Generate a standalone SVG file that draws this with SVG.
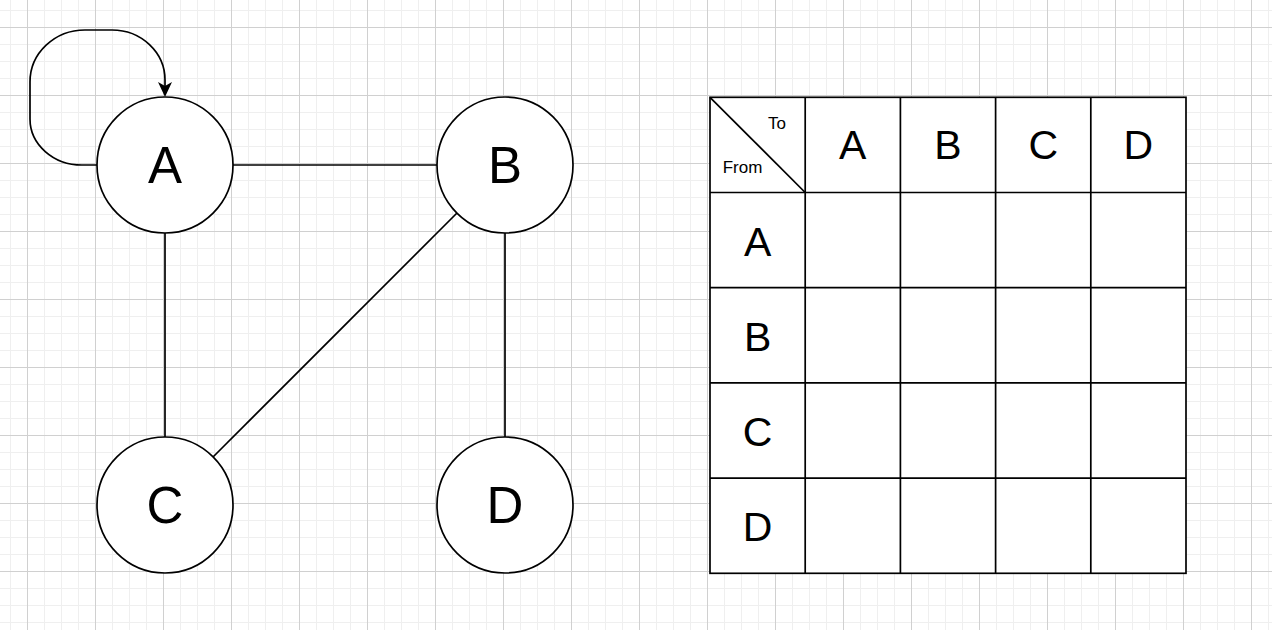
<svg xmlns="http://www.w3.org/2000/svg" width="1272" height="630" viewBox="0 0 1272 630">
  <style>
    .node circle { fill: #ffffff; stroke: #000000; stroke-width: 1.7; }
    .label { font-family: "Liberation Sans", Arial, Helvetica, sans-serif; fill: #000000; text-anchor: middle; }
    .big { font-size: 51px; }
    .head { font-size: 41px; }
    .small { font-size: 17px; }
    .edge { fill: none; stroke: #000000; stroke-width: 1.7; }
    .cell { fill: #ffffff; stroke: #000000; stroke-width: 1.7; }
  </style>
  <defs>
    <!-- background grid: minor every 17px, major every 68px -->
    <pattern id="grid" patternUnits="userSpaceOnUse" x="-41" y="-41" width="68" height="68">
      <path d="M17.5,0 V68 M34.5,0 V68 M51.5,0 V68 M0,17.5 H68 M0,34.5 H68 M0,51.5 H68" stroke="#efefef" stroke-width="1"/>
      <path d="M0.5,0 V68 M0,0.5 H68" stroke="#d0d0d0" stroke-width="1"/>
    </pattern>
    <marker id="arrow" markerUnits="userSpaceOnUse" viewBox="0 0 15 14" markerWidth="15" markerHeight="14" refX="4" refY="7" orient="auto">
      <path d="M0,0 L15,7 L0,14 L4,7 Z" fill="#000000"/>
    </marker>
  </defs>

  <rect x="0" y="0" width="1272" height="630" fill="#ffffff"/>
  <rect x="0" y="0" width="1272" height="630" fill="url(#grid)"/>

  <!-- connectors -->
  <g id="edges">
    <path class="edge" d="M97,165 L82,165 A52,46 0 0 1 30,119 L30,82 A55,52 0 0 1 85,30 L112,30 A53,50 0 0 1 165,80 L165,86" marker-end="url(#arrow)"/>
    <line class="edge" x1="233" y1="165" x2="437" y2="165"/>
    <line class="edge" x1="165" y1="233" x2="165" y2="437"/>
    <line class="edge" x1="505" y1="233" x2="505" y2="437"/>
    <line class="edge" x1="457" y1="213" x2="213" y2="457"/>
  </g>

  <!-- graph nodes -->
  <g id="node-A" class="node">
    <circle cx="165" cy="165" r="68"/>
    <text class="label big" x="165" y="183">A</text>
  </g>
  <g id="node-B" class="node">
    <circle cx="505" cy="165" r="68"/>
    <text class="label big" x="505" y="183">B</text>
  </g>
  <g id="node-C" class="node">
    <circle cx="165" cy="505" r="68"/>
    <text class="label big" x="165" y="523">C</text>
  </g>
  <g id="node-D" class="node">
    <circle cx="505" cy="505" r="68"/>
    <text class="label big" x="505" y="523">D</text>
  </g>

  <!-- adjacency matrix -->
  <g id="matrix">
    <g id="matrix-cells">
      <rect class="cell" x="710" y="97.3" width="476" height="476"/>
      <path class="edge" d="M805.2,97.3 V573.3 M900.4,97.3 V573.3 M995.6,97.3 V573.3 M1090.8,97.3 V573.3 M710,192.5 H1186 M710,287.7 H1186 M710,382.9 H1186 M710,478.1 H1186"/>
    </g>
    <g id="matrix-corner">
      <line class="edge" x1="710" y1="97.3" x2="805.2" y2="192.5"/>
      <text class="label small" x="777" y="128.5">To</text>
      <text class="label small" x="742.5" y="172.5">From</text>
    </g>
    <g id="matrix-columns">
      <text class="label head" x="852.8" y="159">A</text>
      <text class="label head" x="948" y="159">B</text>
      <text class="label head" x="1043.2" y="159">C</text>
      <text class="label head" x="1138.4" y="159">D</text>
    </g>
    <g id="matrix-rows">
      <text class="label head" x="757.6" y="255.5">A</text>
      <text class="label head" x="757.6" y="350.7">B</text>
      <text class="label head" x="757.6" y="445.9">C</text>
      <text class="label head" x="757.6" y="541.1">D</text>
    </g>
  </g>
</svg>
